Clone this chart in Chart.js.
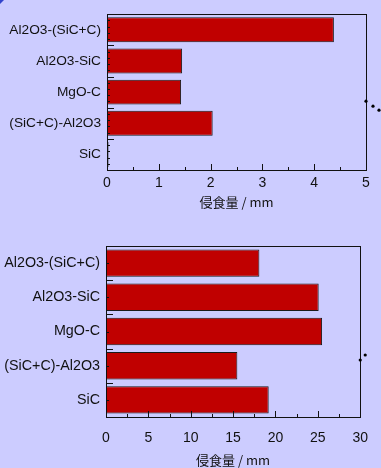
<!DOCTYPE html>
<html>
<head>
<meta charset="utf-8">
<script src="https://cdn.jsdelivr.net/npm/chart.js@4"></script>
<style>
  html, body { margin: 0; padding: 0; background: #ccccff; }
  body { width: 381px; height: 468px; position: relative; overflow: hidden; }
  .box { position: absolute; left: 0; width: 381px; }
  #topBox { top: 0; height: 215px; }
  #bottomBox { top: 230px; height: 238px; }
  .corner { position: absolute; left: 0; top: 0; width: 0; height: 0;
    border-top: 4px solid #3344cc; border-right: 4px solid transparent; }
</style>
</head>
<body>
<div class="corner"></div>
<div class="box" id="topBox"><canvas id="topChart"></canvas></div>
<div class="box" id="bottomBox"><canvas id="bottomChart"></canvas></div>
<script>
// Categories (top to bottom)
const materials = ["Al2O3-(SiC+C)", "Al2O3-SiC", "MgO-C", "(SiC+C)-Al2O3", "SiC"];

// Erosion amount (mm)
const erosionTop = [4.38, 1.45, 1.43, 2.04, 0.03];
const erosionBottom = [18.1, 25.1, 25.5, 15.5, 19.2];

// Axis ranges / ticks
const topMax = 5, topStep = 1;
const bottomMax = 30, bottomStep = 5;

const axisTitle = "侵食量 / mm";

// Frame + inward tick marks drawn from the chart's own scales
const frameTicks = {
  id: "frameTicks",
  afterDatasetsDraw(chart, args, opts) {
    const { ctx, chartArea: a, scales: { x, y } } = chart;
    ctx.save();
    ctx.strokeStyle = "#111";
    ctx.lineWidth = 1;
    ctx.strokeRect(Math.round(a.left) + 0.5, Math.round(a.top) + 0.5,
      Math.round(a.right - a.left), Math.round(a.bottom - a.top));

    ctx.beginPath();
    // x axis: major + half-step minor ticks, pointing up
    const half = opts.xStep / 2;
    for (let i = 0; i * half <= x.max + 1e-9; i++) {
      const px = Math.round(x.getPixelForValue(i * half)) + 0.5;
      const len = i % 2 === 0 ? 6 : 3;
      ctx.moveTo(px, a.bottom);
      ctx.lineTo(px, a.bottom - len);
    }
    // y axis: long ticks at category edges, short ticks between
    const n = materials.length;
    for (let i = 0; i < n; i++) {
      const edge = Math.round(y.getPixelForValue(i - 0.5)) + 0.5;
      ctx.moveTo(a.left, edge);
      ctx.lineTo(a.left + 7, edge);
      for (let k = 1; k < opts.ySub; k++) {
        const py = Math.round(y.getPixelForValue(i - 0.5 + k / opts.ySub)) + 0.5;
        ctx.moveTo(a.left, py);
        ctx.lineTo(a.left + 3, py);
      }
    }
    ctx.stroke();

    // little dotted leader on the right edge
    ctx.fillStyle = "#000";
    opts.dots.forEach(([dx, dy]) => {
      ctx.beginPath();
      ctx.arc(a.right + dx, a.top + dy, 1.6, 0, Math.PI * 2);
      ctx.fill();
    });
    ctx.restore();
  }
};

function makeChart(id, values, max, step, cfg) {
  return new Chart(document.getElementById(id), {
    type: "bar",
    data: {
      labels: materials,
      datasets: [{
        data: values,
        backgroundColor: "#c00000",
        borderColor: "#1a1a1a",
        borderWidth: 1,
        borderSkipped: "start",
        barPercentage: 0.8,
        categoryPercentage: 1.0,
      }],
    },
    options: {
      indexAxis: "y",
      responsive: true,
      maintainAspectRatio: false,
      animation: false,
      layout: { padding: cfg.padding },
      plugins: {
        legend: { display: false },
        tooltip: { enabled: false },
        frameTicks: { xStep: step, ySub: cfg.ySub, dots: cfg.dots },
      },
      scales: {
        x: {
          min: 0,
          max: max,
          grid: { display: false, drawTicks: false },
          border: { display: false },
          ticks: {
            stepSize: step,
            color: "#111",
            padding: cfg.xTickPad,
            font: { family: "'Liberation Sans', Arial, sans-serif", size: 14 },
          },
          title: {
            display: true,
            text: axisTitle,
            color: "#111",
            padding: { top: 0, bottom: cfg.titlePad },
            font: { family: "'Noto Sans CJK JP', 'Liberation Sans', sans-serif", size: 13 },
          },
          afterFit(scale) { scale.height = cfg.xHeight; },
        },
        y: {
          grid: { display: false, drawTicks: false },
          border: { display: false },
          ticks: {
            color: "#111",
            padding: 6,
            font: { family: "'Liberation Sans', Arial, sans-serif", size: cfg.yFont },
          },
          afterFit(scale) { scale.width = cfg.yWidth; },
        },
      },
    },
    plugins: [frameTicks],
  });
}

document.addEventListener("DOMContentLoaded", function () {
  makeChart("topChart", erosionTop, topMax, topStep, {
    padding: { top: 7, right: 15, left: 0, bottom: 0 },
    xHeight: 45, yWidth: 107, yFont: 13.7, xTickPad: 5, titlePad: 5, ySub: 5,
    dots: [[0, 87], [7, 92], [13, 96]],
  });
  makeChart("bottomChart", erosionBottom, bottomMax, bottomStep, {
    padding: { top: 16, right: 6, left: 0, bottom: 0 },
    xHeight: 51, yWidth: 106, yFont: 14.3, xTickPad: 13, titlePad: 0, ySub: 2,
    dots: [[0, 114], [5, 109]],
  });
});
</script>
</body>
</html>
